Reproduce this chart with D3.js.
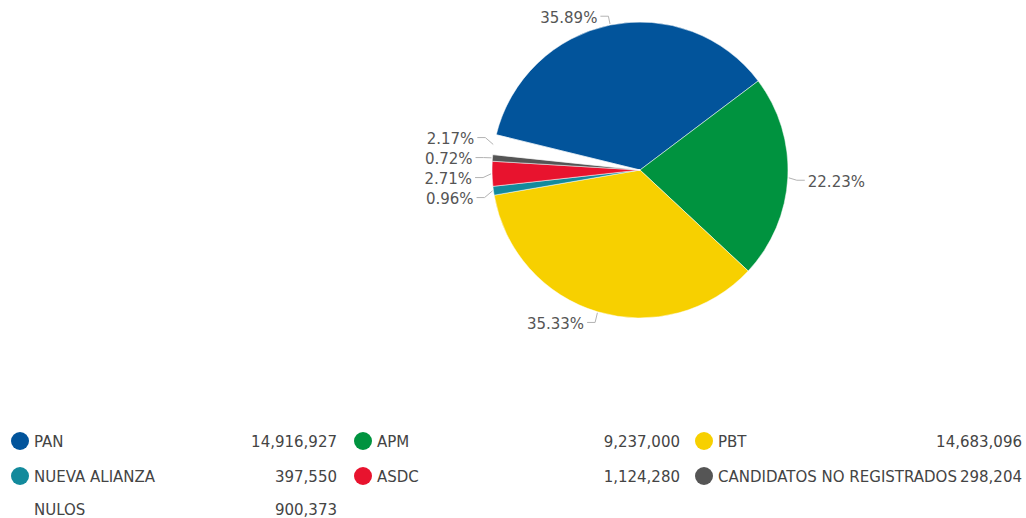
<!DOCTYPE html>
<html><head><meta charset="utf-8">
<script src="https://cdn.jsdelivr.net/npm/d3@7"></script>
<style>
html,body{margin:0;padding:0;background:#fff;}
svg{display:block;font-family:"DejaVu Sans",Verdana,sans-serif;}
</style></head>
<body>
<svg id="chart" width="1026" height="518"></svg>
<script>
const categories = ["PAN","APM","PBT","NUEVA ALIANZA","ASDC","CANDIDATOS NO REGISTRADOS","NULOS"];
const votes = [14916927, 9237000, 14683096, 397550, 1124280, 298204, 900373];
const colors = ["#02549b","#00933f","#f7d000","#138a9c","#e8132e","#555555","none"];
const legendOrder = ["PAN","APM","PBT","NUEVA ALIANZA","ASDC","CANDIDATOS NO REGISTRADOS","NULOS"];

const svg = d3.select("#chart");
const cx = 640, cy = 170, R = 148;
const total = d3.sum(votes);
const data = categories.map((c,i)=>({cat:c, value:votes[i], color:colors[i]}));

// PAN/APM boundary sits at ~53deg clockwise from 12 o'clock
const panShare = votes[0]/total*2*Math.PI;
const start = 53*Math.PI/180 - panShare;
const pie = d3.pie().sort(null).value(d=>d.value).startAngle(start).endAngle(start+2*Math.PI);
const arcs = pie(data);
const arc = d3.arc().innerRadius(0).outerRadius(R);

const g = svg.append("g").attr("transform",`translate(${cx},${cy})`);
g.selectAll("path.slice").data(arcs).join("path")
  .attr("class","slice")
  .attr("d",arc)
  .attr("fill",d=>d.data.color==="none"?"#fff":d.data.color)
  .attr("fill-opacity",d=>d.data.color==="none"?0:1)
  .attr("stroke","#fff").attr("stroke-width",0.5);

// labels
const fmtPct = v => (v/total*100).toFixed(2)+"%";
const labels = arcs.map(a=>{
  const m = (a.startAngle+a.endAngle)/2;
  const s = Math.sin(m), c = -Math.cos(m);
  return {a, m, side: s>=0?1:-1,
    px: (R+1)*s, py:(R+1)*c,
    ex: (R+9)*s, ey:(R+9)*c, y:(R+9)*c + (c>0.02?2:0)};
});
// relax overlaps on each side
[1,-1].forEach(side=>{
  const L = labels.filter(l=>l.side===side).sort((a,b)=>a.y-b.y);
  for(let it=0; it<200; it++){
    for(let i=0;i<L.length-1;i++){
      const gap = L[i+1].y - L[i].y;
      if(gap<20){ const d=(20-gap)/2; L[i].y-=d; L[i+1].y+=d; }
    }
  }
});
const lg = g.append("g");
labels.forEach(l=>{
  const endX = l.ex + l.side*8;
  lg.append("polyline")
    .attr("points",`${l.px},${l.py} ${l.ex},${l.y} ${endX},${l.y}`)
    .attr("fill","none").attr("stroke","#b3b3b3").attr("stroke-width",1);
  lg.append("text")
    .attr("x", endX + l.side*3)
    .attr("y", l.y)
    .attr("dy","0.42em")
    .attr("text-anchor", l.side>0?"start":"end")
    .attr("font-size",15).attr("fill","#555")
    .text(fmtPct(l.a.value));
});

// legend
const fmt = d3.format(",");
const colX = [20, 363, 704];
const colValEnd = [337, 680, 1022];
const rowY = [441, 476, 509];
const leg = svg.append("g");
legendOrder.forEach((name,i)=>{
  const k = categories.indexOf(name);
  const col = i%3, row = Math.floor(i/3);
  const x = colX[col], y = rowY[row];
  if(colors[k]!=="none"){
    leg.append("circle").attr("cx",x).attr("cy",y).attr("r",9).attr("fill",colors[k]);
  }
  leg.append("text").attr("x",x+14).attr("y",y).attr("dy","0.38em")
    .attr("font-size",15).attr("fill","#444").text(name);
  leg.append("text").attr("x",colValEnd[col]).attr("y",y).attr("dy","0.38em")
    .attr("text-anchor","end").attr("font-size",15).attr("fill","#444").text(fmt(votes[k]));
});
</script>
</body></html>
